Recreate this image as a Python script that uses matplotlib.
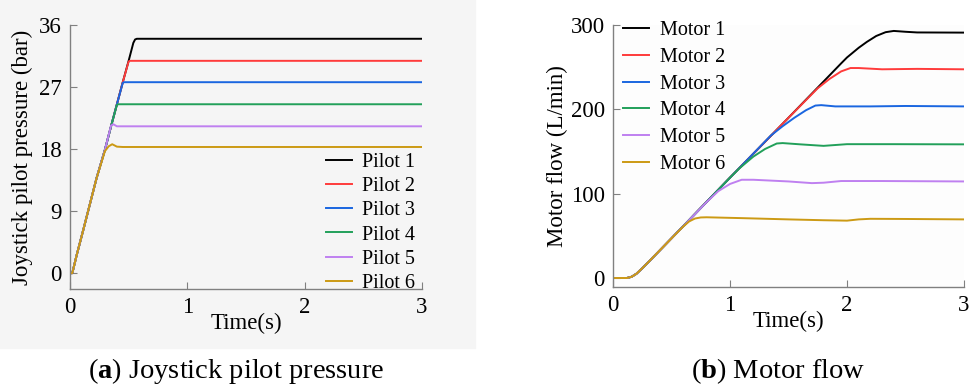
import matplotlib.pyplot as plt
from matplotlib.patches import Rectangle

# ---- data ----
# (a) joystick pilot pressure, bar
pilot1_t = [0, 0.02, 0.057, 0.114, 0.227, 0.298, 0.35, 0.40, 0.45, 0.50, 0.54, 0.555, 0.57, 3.0]
pilot1_v = [0, 0, 2.6, 6.3, 13.8, 17.9, 21.3, 24.5, 27.7, 30.8, 33.4, 33.9, 34.0, 34.0]
pilot2_t = [0, 0.02, 0.057, 0.114, 0.227, 0.298, 0.35, 0.40, 0.45, 0.50, 0.51, 3.0]
pilot2_v = [0, 0, 2.6, 6.3, 13.8, 17.9, 21.3, 24.5, 27.7, 30.7, 30.8, 30.8]
pilot3_t = [0, 0.02, 0.057, 0.114, 0.227, 0.298, 0.35, 0.40, 0.45, 0.46, 3.0]
pilot3_v = [0, 0, 2.6, 6.3, 13.8, 17.9, 21.3, 24.5, 27.6, 27.7, 27.7]
pilot4_t = [0, 0.02, 0.057, 0.114, 0.227, 0.298, 0.35, 0.40, 0.41, 3.0]
pilot4_v = [0, 0, 2.6, 6.3, 13.8, 17.9, 21.3, 24.4, 24.5, 24.5]
pilot5_t = [0, 0.02, 0.057, 0.114, 0.227, 0.298, 0.35, 0.37, 0.40, 3.0]
pilot5_v = [0, 0, 2.6, 6.3, 13.8, 17.9, 21.4, 21.6, 21.3, 21.3]
pilot6_t = [0, 0.02, 0.057, 0.114, 0.227, 0.298, 0.33, 0.36, 0.40, 0.45, 3.0]
pilot6_v = [0, 0, 2.6, 6.3, 13.8, 17.7, 18.4, 18.7, 18.35, 18.3, 18.3]

# (b) motor flow, L/min
motor1_t = [0, 0.12, 0.16, 0.2, 0.25, 0.3, 0.5, 1.0, 1.5, 1.95, 2.0, 2.1, 2.17, 2.25, 2.33, 2.4, 2.5, 2.6, 3.0]
motor1_v = [0, 0, 1.5, 5, 11.5, 18.5, 47, 119, 190, 254.5, 261.5, 273, 280, 287, 291.5, 293, 292, 291.2, 291]
motor2_t = [0, 0.12, 0.16, 0.2, 0.25, 0.3, 0.5, 1.0, 1.5, 1.75, 1.85, 1.95, 2.03, 2.1, 2.3, 2.6, 3.0]
motor2_v = [0, 0, 1.5, 5, 11.5, 18.5, 47, 119, 190, 225, 236, 245, 249, 249, 247.5, 248, 247.5]
motor3_t = [0, 0.12, 0.16, 0.2, 0.25, 0.3, 0.5, 1.0, 1.35, 1.45, 1.55, 1.65, 1.73, 1.78, 1.9, 2.2, 2.5, 3.0]
motor3_v = [0, 0, 1.5, 5, 11.5, 18.5, 47, 119, 169, 180, 190, 199, 204.5, 205, 203.5, 203.5, 204, 203.5]
motor4_t = [0, 0.12, 0.16, 0.2, 0.25, 0.3, 0.5, 1.0, 1.08, 1.2, 1.3, 1.4, 1.45, 1.6, 1.8, 2.0, 2.4, 3.0]
motor4_v = [0, 0, 1.5, 5, 11.5, 18.5, 47, 119, 130, 144, 153, 159.5, 160, 158.5, 156.7, 158.7, 158.7, 158.5]
motor5_t = [0, 0.12, 0.16, 0.2, 0.25, 0.3, 0.5, 0.8, 0.9, 1.0, 1.1, 1.2, 1.5, 1.7, 1.8, 1.95, 2.3, 3.0]
motor5_v = [0, 0, 1.5, 5, 11.5, 18.5, 47, 90, 103, 111.5, 116.5, 116.5, 114.5, 112.5, 113, 115, 115, 114.5]
motor6_t = [0, 0.12, 0.16, 0.2, 0.25, 0.3, 0.5, 0.6, 0.65, 0.7, 0.75, 0.8, 1.1, 1.5, 1.8, 2.0, 2.1, 2.2, 2.5, 3.0]
motor6_v = [0, 0, 1.5, 5, 11.5, 18.5, 47, 61, 67, 70.5, 71.8, 72, 71, 69.5, 68.5, 68, 69.5, 70.2, 70, 69.5]

colors = ['#000000', '#ff3b3b', '#1a66e0', '#22a05a', '#bf80f0', '#cc9a14']

pilot_t = [pilot1_t, pilot2_t, pilot3_t, pilot4_t, pilot5_t, pilot6_t]
pilot_v = [pilot1_v, pilot2_v, pilot3_v, pilot4_v, pilot5_v, pilot6_v]
motor_t = [motor1_t, motor2_t, motor3_t, motor4_t, motor5_t, motor6_t]
motor_v = [motor1_v, motor2_v, motor3_v, motor4_v, motor5_v, motor6_v]

plt.rcParams['font.family'] = ['Liberation Serif', 'DejaVu Serif']
plt.rcParams['mathtext.fontset'] = 'custom'
plt.rcParams['mathtext.rm'] = 'Liberation Serif'
plt.rcParams['mathtext.bf'] = 'Liberation Serif:bold'

fig = plt.figure(figsize=(9.69, 3.85), dpi=100)
fig.patches.append(Rectangle((0, 0.096), 0.49, 0.904, transform=fig.transFigure,
                             color='#f5f5f5', zorder=-10))

ax1 = fig.add_axes([0.0722, 0.2494, 0.3633, 0.6857])
ax2 = fig.add_axes([0.6326, 0.2545, 0.3622, 0.6805])
ax1.set_facecolor('none')
ax2.set_facecolor('#fdfdfd')

for i in range(6):
    ax1.plot(pilot_t[i], pilot_v[i], color=colors[i], lw=1.4, label='Pilot %d' % (i + 1))
    ax2.plot(motor_t[i], motor_v[i], color=colors[i], lw=1.4, label='Motor %d' % (i + 1))

ax1.set_xlim(0, 3)
ax1.set_ylim(-2.3, 36)
ax1.set_yticks([0, 9, 18, 27, 36])
ax2.set_xlim(0, 3)
ax2.set_ylim(-10.7, 300)
ax2.set_yticks([0, 100, 200, 300])

for ax in (ax1, ax2):
    ax.set_xticks([0, 1, 2, 3])
    for s in ('top', 'right'):
        ax.spines[s].set_visible(False)
    for s in ('left', 'bottom'):
        ax.spines[s].set_color('#808080')
        ax.spines[s].set_linewidth(1.0)
    ax.tick_params(direction='in', length=5, color='#808080', labelsize=16.5, pad=6)
    ax.set_xlabel('Time(s)', fontsize=16.5)
    ax.xaxis.set_label_coords(0.5, -0.09)

ax1.set_ylabel('Joystick pilot pressure (bar)', fontsize=16.5)
ax1.yaxis.set_label_coords(-0.105, 0.5)
ax2.set_ylabel('Motor flow (L/min)', fontsize=16.5)
ax2.yaxis.set_label_coords(-0.128, 0.5)

ax1.legend(loc='upper left', bbox_to_anchor=(0.727, 0.515), frameon=False, fontsize=14.5,
           borderpad=0, borderaxespad=0, handlelength=1.3, handletextpad=0.5,
           labelspacing=0.25)
ax2.legend(loc='upper left', bbox_to_anchor=(0.028, 1.015), frameon=False, fontsize=14.5,
           borderpad=0, borderaxespad=0, handlelength=1.3, handletextpad=0.55,
           labelspacing=0.38)

fig.text(0.244, 0.018, r'($\mathbf{a}$) Joystick pilot pressure', ha='center', fontsize=20.5)
fig.text(0.803, 0.018, r'($\mathbf{b}$) Motor flow', ha='center', fontsize=20.5)

fig.savefig('out.png', dpi=100)
